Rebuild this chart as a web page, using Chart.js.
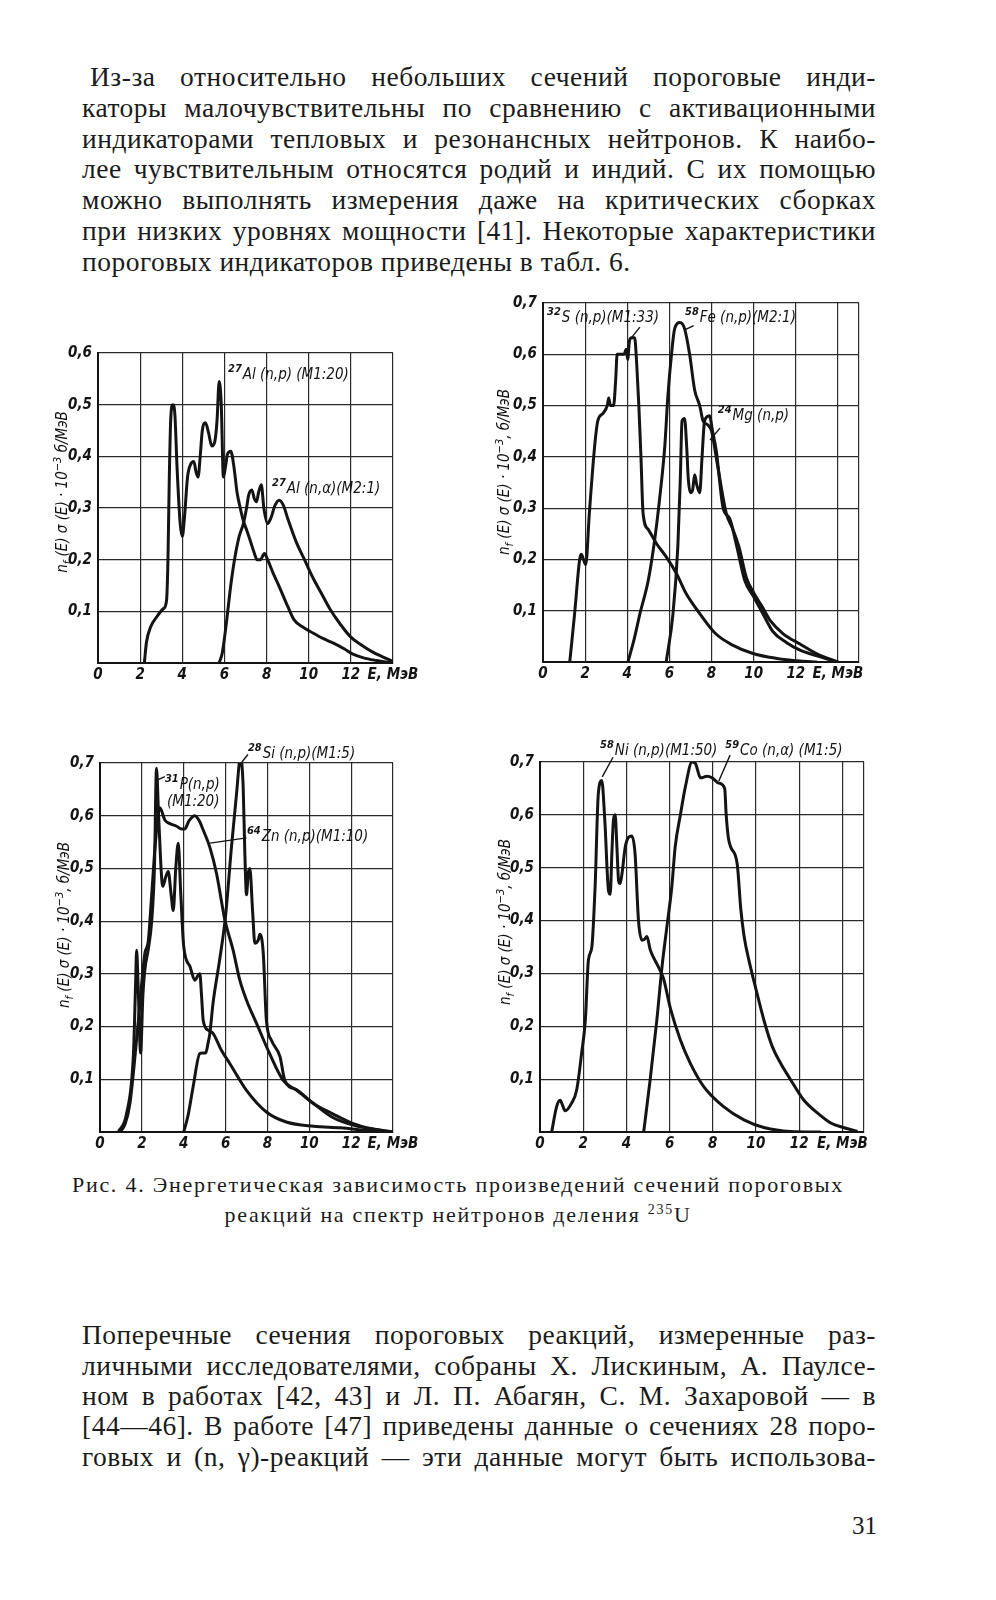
<!DOCTYPE html>
<html lang="ru">
<head>
<meta charset="utf-8">
<script src="https://cdn.jsdelivr.net/npm/chart.js@4.4.1/dist/chart.umd.min.js"></script>
<style>
  body { margin: 0; width: 996px; height: 1600px; position: relative; overflow: hidden; background: #fff; color: #1b1b1b;
         font-family: "Liberation Serif", "DejaVu Serif", serif; }
  .ln { position: absolute; left: 82px; width: 794px; font-size: 27.5px; line-height: 30px; letter-spacing: 0.5px;
        white-space: nowrap; text-align: justify; text-align-last: justify; }
  .ln.last { text-align-last: left; }
  .cap { position: absolute; left: 72px; width: 772px; font-size: 22px; line-height: 24px; letter-spacing: 1.7px; white-space: nowrap; }
  canvas { position: absolute; }
  .ytitle { position: absolute; transform: translate(-50%, -50%) rotate(-90deg); white-space: nowrap;
            font: italic 15px "Liberation Sans Narrow", "DejaVu Sans Condensed", sans-serif; color: #111; }
  .ytitle sub, .ytitle sup { font-size: 11px; }
  .pg { position: absolute; left: 852px; top: 1512px; font-size: 25px; line-height: 28px; }
</style>
</head>
<body>

<div class="ln" style="left:90px;width:786px;top:62px">Из-за  относительно небольших сечений пороговые инди-</div>
<div class="ln" style="top:93px">каторы малочувствительны по сравнению с активационными</div>
<div class="ln" style="top:124px">индикаторами тепловых и резонансных нейтронов.  К наибо-</div>
<div class="ln" style="top:154px">лее чувствительным относятся родий и индий. С их помощью</div>
<div class="ln" style="top:185px">можно выполнять измерения даже на критических  сборках</div>
<div class="ln" style="top:216px">при низких уровнях мощности [41]. Некоторые характеристики</div>
<div class="ln last" style="top:247px">пороговых индикаторов приведены в табл. 6.</div>

<canvas id="c1"></canvas>
<canvas id="c2"></canvas>
<canvas id="c3"></canvas>
<canvas id="c4"></canvas>

<div class="ytitle" style="left:62px;top:492px">n<sub>f</sub> (E) σ (E) · 10<sup>−3</sup> б/МэВ</div>
<div class="ytitle" style="left:504px;top:472px">n<sub>f</sub> (E) σ (E) · 10<sup>−3</sup>, б/МэВ</div>
<div class="ytitle" style="left:64px;top:925px">n<sub>f</sub> (E) σ (E) · 10<sup>−3</sup>, б/МэВ</div>
<div class="ytitle" style="left:505px;top:922px">n<sub>f</sub> (E) σ (E) · 10<sup>−3</sup>, б/МэВ</div>

<div class="cap" style="top:1173px;text-align:justify;text-align-last:justify">Рис. 4. Энергетическая зависимость произведений сечений пороговых</div>
<div class="cap" style="top:1198px;text-align:center">реакций на спектр нейтронов деления <sup style="font-size:14px">235</sup>U</div>

<div class="ln" style="top:1320px">Поперечные сечения пороговых реакций, измеренные раз-</div>
<div class="ln" style="top:1351px">личными исследователями, собраны Х. Лискиным, А. Паулсе-</div>
<div class="ln" style="top:1381px">ном в работах  [42, 43] и Л. П. Абагян, С. М. Захаровой — в</div>
<div class="ln" style="top:1411px">[44—46]. В работе [47] приведены данные о сечениях 28 поро-</div>
<div class="ln" style="top:1442px">говых и (n, γ)-реакций — эти данные могут быть использова-</div>
<div class="pg">31</div>

<script>
// шкалы
const xTickValues = [0, 2, 4, 6, 8, 10, 12, 14];
const xTickLabels = ['0', '2', '4', '6', '8', '10', '12', 'E, МэВ'];
const yTickLabels = ['', '0,1', '0,2', '0,3', '0,4', '0,5', '0,6', '0,7'];

// 27Al (n,p) и (n,α)
const alNpE = [2.2, 2.3, 2.5, 2.8, 3.1, 3.25, 3.32, 3.38, 3.45, 3.55, 3.65, 3.75, 3.9, 4.0, 4.1, 4.25, 4.4, 4.55, 4.65, 4.75, 4.85, 4.95, 5.1, 5.25, 5.4, 5.55, 5.65, 5.75, 5.85, 5.95, 6.05, 6.15, 6.3, 6.45, 6.6, 6.75, 6.9, 7.05, 7.2, 7.4, 7.55, 7.7, 7.9, 8.05, 8.3, 8.6, 9.0, 9.3, 9.7, 10.2, 10.7, 11.2, 11.7, 12.1, 12.6, 13.2, 14.0];
const alNpV = [0, 0.04, 0.07, 0.09, 0.105, 0.12, 0.2, 0.35, 0.47, 0.5, 0.48, 0.38, 0.27, 0.245, 0.28, 0.36, 0.385, 0.39, 0.37, 0.36, 0.4, 0.45, 0.465, 0.445, 0.42, 0.43, 0.47, 0.545, 0.5, 0.36, 0.38, 0.405, 0.41, 0.38, 0.33, 0.3, 0.275, 0.258, 0.24, 0.215, 0.2, 0.2, 0.212, 0.2, 0.175, 0.148, 0.11, 0.084, 0.07, 0.058, 0.047, 0.038, 0.027, 0.017, 0.01, 0.005, 0];
const alNaE = [5.75, 5.9, 6.1, 6.3, 6.5, 6.7, 6.9, 7.05, 7.15, 7.3, 7.42, 7.52, 7.62, 7.75, 7.87, 8.05, 8.2, 8.4, 8.6, 8.8, 9.0, 9.4, 9.8, 10.2, 10.6, 11.0, 11.5, 12.0, 12.5, 13.0, 13.5, 14.0];
const alNaV = [0, 0.02, 0.08, 0.15, 0.205, 0.245, 0.27, 0.3, 0.325, 0.335, 0.318, 0.312, 0.33, 0.345, 0.3, 0.27, 0.28, 0.305, 0.315, 0.305, 0.28, 0.235, 0.2, 0.165, 0.135, 0.105, 0.075, 0.05, 0.035, 0.022, 0.012, 0.003];

// 32S, 56Fe, 24Mg (n,p)
const sE = [1.27, 1.5, 1.74, 1.82, 1.92, 2.03, 2.2, 2.45, 2.6, 2.85, 3.05, 3.12, 3.2, 3.35, 3.45, 3.52, 3.65, 3.85, 3.95, 4.02, 4.1, 4.2, 4.35, 4.45, 4.55, 4.65, 4.75, 5.0, 5.4, 5.85, 6.33, 6.8, 7.45, 8.2, 9.0, 10.0, 11.1, 12.2, 13.0];
const sV = [0, 0.094, 0.2, 0.21, 0.2, 0.19, 0.29, 0.42, 0.47, 0.485, 0.5, 0.515, 0.5, 0.5, 0.55, 0.6, 0.6, 0.6, 0.61, 0.59, 0.625, 0.632, 0.632, 0.58, 0.5, 0.4, 0.29, 0.258, 0.23, 0.205, 0.173, 0.133, 0.094, 0.055, 0.033, 0.016, 0.007, 0.002, 0];
const feE = [4.03, 4.3, 4.6, 5.0, 5.3, 5.54, 5.78, 5.93, 6.1, 6.25, 6.5, 6.72, 6.96, 7.2, 7.44, 7.6, 7.83, 8.0, 8.3, 8.7, 9.0, 9.3, 9.65, 10.0, 10.4, 10.8, 11.4, 12.2, 13.0, 14.0];
const feV = [0, 0.04, 0.094, 0.16, 0.238, 0.32, 0.42, 0.52, 0.6, 0.65, 0.662, 0.65, 0.6, 0.53, 0.5, 0.47, 0.462, 0.45, 0.38, 0.29, 0.26, 0.225, 0.165, 0.135, 0.108, 0.08, 0.055, 0.035, 0.016, 0];
const mgE = [5.85, 6.17, 6.4, 6.52, 6.6, 6.72, 6.82, 6.9, 7.0, 7.1, 7.2, 7.3, 7.44, 7.55, 7.67, 7.9, 8.05, 8.23, 8.55, 8.86, 9.2, 9.57, 10.0, 10.44, 10.9, 11.55, 12.2, 13.0, 14.0];
const mgV = [0, 0.094, 0.225, 0.36, 0.47, 0.475, 0.42, 0.355, 0.33, 0.335, 0.365, 0.345, 0.33, 0.4, 0.47, 0.48, 0.45, 0.41, 0.3, 0.28, 0.225, 0.16, 0.127, 0.094, 0.06, 0.038, 0.023, 0.012, 0];

// 31P, 64Zn, 28Si (n,p)
const pE = [0.87, 1.27, 1.6, 1.7, 1.75, 1.82, 1.94, 2.05, 2.15, 2.3, 2.47, 2.6, 2.7, 2.8, 3.0, 3.15, 3.26, 3.4, 3.5, 3.62, 3.74, 3.85, 4.0, 4.3, 4.53, 4.7, 4.77, 4.85, 4.93, 5.17, 5.4, 5.8, 6.2, 7.0, 7.95, 8.9, 10.2, 11.5, 12.5, 13.5];
const pV = [0, 0.035, 0.15, 0.28, 0.345, 0.28, 0.15, 0.26, 0.31, 0.345, 0.4, 0.5, 0.69, 0.6, 0.466, 0.485, 0.494, 0.45, 0.42, 0.5, 0.548, 0.46, 0.352, 0.314, 0.288, 0.298, 0.3, 0.26, 0.212, 0.193, 0.187, 0.155, 0.13, 0.079, 0.038, 0.019, 0.011, 0.008, 0.004, 0];
const znE = [0.95, 1.2, 1.43, 1.83, 2.15, 2.3, 2.47, 2.65, 2.86, 3.1, 3.34, 3.66, 3.9, 4.05, 4.25, 4.53, 4.75, 4.93, 5.25, 5.57, 5.97, 6.36, 6.68, 7.0, 7.48, 8.1, 8.75, 9.4, 10.2, 11.1, 12.1, 13.4, 14.0];
const znV = [0, 0.015, 0.054, 0.21, 0.34, 0.36, 0.45, 0.55, 0.615, 0.592, 0.585, 0.58, 0.575, 0.575, 0.59, 0.6, 0.59, 0.573, 0.54, 0.49, 0.402, 0.345, 0.288, 0.25, 0.206, 0.149, 0.098, 0.079, 0.054, 0.028, 0.013, 0.003, 0];
const siE = [4.0, 4.2, 4.45, 4.77, 4.9, 5.05, 5.17, 5.25, 5.4, 5.73, 6.0, 6.28, 6.52, 6.71, 6.84, 6.92, 7.0, 7.08, 7.16, 7.29, 7.4, 7.56, 7.64, 7.8, 7.95, 8.19, 8.6, 8.83, 9.4, 10.2, 11.1, 12.1, 13.0, 14.0];
const siV = [0, 0.03, 0.086, 0.149, 0.15, 0.15, 0.17, 0.187, 0.244, 0.33, 0.41, 0.54, 0.64, 0.71, 0.656, 0.53, 0.45, 0.49, 0.5, 0.42, 0.358, 0.364, 0.375, 0.34, 0.212, 0.174, 0.143, 0.098, 0.08, 0.054, 0.035, 0.016, 0.006, 0];

// 58Ni (n,p), 59Co (n,α)
const niE = [0.54, 0.77, 0.93, 1.05, 1.16, 1.47, 1.7, 1.93, 2.1, 2.24, 2.4, 2.55, 2.7, 2.86, 3.0, 3.17, 3.25, 3.33, 3.4, 3.48, 3.56, 3.64, 3.71, 3.8, 3.95, 4.25, 4.4, 4.56, 4.72, 4.85, 4.95, 5.1, 5.41, 5.72, 6.03, 6.5, 6.96, 7.58, 8.5, 9.44, 10.4, 11.6, 13.0];
const niV = [0, 0.048, 0.06, 0.05, 0.04, 0.055, 0.08, 0.15, 0.212, 0.325, 0.35, 0.463, 0.64, 0.665, 0.59, 0.457, 0.45, 0.53, 0.59, 0.6, 0.54, 0.475, 0.47, 0.49, 0.54, 0.56, 0.527, 0.4, 0.363, 0.365, 0.37, 0.345, 0.318, 0.29, 0.235, 0.174, 0.13, 0.086, 0.048, 0.023, 0.008, 0.001, 0];
const coE = [4.8, 5.1, 5.41, 5.65, 5.88, 6.1, 6.26, 6.5, 6.73, 7.04, 7.2, 7.43, 7.74, 7.97, 8.28, 8.55, 8.62, 8.72, 8.82, 9.13, 9.3, 9.45, 9.7, 10.0, 10.37, 10.75, 11.14, 11.6, 12.2, 12.84, 13.46, 14.08, 14.7];
const coV = [0, 0.099, 0.212, 0.313, 0.39, 0.463, 0.54, 0.6, 0.653, 0.7, 0.697, 0.67, 0.673, 0.67, 0.66, 0.65, 0.6, 0.557, 0.54, 0.507, 0.42, 0.37, 0.32, 0.27, 0.211, 0.162, 0.13, 0.099, 0.061, 0.036, 0.017, 0.008, 0.001];

const FONT = "'Liberation Sans Narrow', 'DejaVu Sans Condensed', 'Liberation Sans', sans-serif";
const INK = '#141414';

// подписи кривых и выноски (в единицах осей)
const notesPlugin = {
    id: 'notes',
    afterDatasetsDraw(chart, args, opts) {
        const ctx = chart.ctx, x = chart.scales.x, y = chart.scales.y;
        ctx.save();
        ctx.strokeStyle = INK;
        ctx.fillStyle = INK;
        ctx.lineWidth = 1.4;
        (opts.leaders || []).forEach(l => {
            ctx.beginPath();
            ctx.moveTo(x.getPixelForValue(l[0]), y.getPixelForValue(l[1]));
            ctx.lineTo(x.getPixelForValue(l[2]), y.getPixelForValue(l[3]));
            ctx.stroke();
        });
        (opts.labels || []).forEach(n => {
            let px = x.getPixelForValue(n.x);
            const py = y.getPixelForValue(n.y);
            ctx.textBaseline = 'alphabetic';
            if (n.sup) {
                ctx.font = 'italic bold 11px ' + FONT;
                ctx.fillText(n.sup, px, py - 7);
                px += ctx.measureText(n.sup).width + 1;
            }
            ctx.font = 'italic 15px ' + FONT;
            ctx.fillText(n.text, px, py);
        });
        ctx.restore();
    }
};

function line(E, V) {
    return {
        data: E.map((e, i) => ({ x: e, y: V[i] })),
        borderColor: INK,
        borderWidth: 3,
        pointRadius: 0,
        fill: false,
        cubicInterpolationMode: 'monotone'
    };
}

// box: [left, top, width, height] холста, area: [left, top, right, bottom] поля графика
function makeChart(id, box, area, xMax, yMax, datasets, notes) {
    const cv = document.getElementById(id);
    cv.style.left = box[0] + 'px';
    cv.style.top = box[1] + 'px';
    cv.width = box[2];
    cv.height = box[3];
    const yW = area[0] - box[0];
    const xH = box[1] + box[3] - area[3];
    const tickFont = { family: FONT, size: 15, style: 'italic', weight: 'bold' };
    const xVals = xMax > 14 ? xTickValues.concat([xMax]) : xTickValues;
    return new Chart(cv, {
        type: 'line',
        data: { datasets: datasets },
        options: {
            responsive: false,
            animation: false,
            layout: { padding: { left: 0, top: area[1] - box[1], right: box[0] + box[2] - area[2], bottom: 0 } },
            plugins: { legend: { display: false }, tooltip: { enabled: false }, notes: notes },
            scales: {
                x: {
                    type: 'linear', min: 0, max: xMax,
                    afterBuildTicks: s => { s.ticks = xVals.map(v => ({ value: v })); },
                    ticks: { autoSkip: false, maxRotation: 0, padding: 3, color: INK, font: tickFont,
                             callback: v => { const i = xTickValues.indexOf(v); return i < 0 ? '' : xTickLabels[i]; } },
                    grid: { color: '#2a2a2a', lineWidth: 1.2, drawTicks: false },
                    border: { color: INK, width: 2 },
                    afterFit: s => { s.height = xH; }
                },
                y: {
                    min: 0, max: yMax,
                    ticks: { stepSize: 0.1, padding: 6, color: INK, font: tickFont,
                             callback: v => yTickLabels[Math.round(v * 10)] || '' },
                    grid: { color: '#2a2a2a', lineWidth: 1.2, drawTicks: false },
                    border: { color: INK, width: 2 },
                    afterFit: s => { s.width = yW; }
                }
            }
        },
        plugins: [notesPlugin]
    });
}

makeChart('c1', [20, 300, 420, 392], [98, 353, 393, 663], 14, 0.6,
    [line(alNpE, alNpV), line(alNaE, alNaV)],
    { labels: [ { x: 6.17, y: 0.55, sup: '27', text: 'Al (n,p) (M1:20)' },
                { x: 8.26, y: 0.329, sup: '27', text: 'Al (n,α)(M2:1)' } ] });

makeChart('c2', [470, 270, 420, 422], [543, 303, 859, 662], 15, 0.7,
    [line(sE, sV), line(feE, feV), line(mgE, mgV)],
    { labels: [ { x: 0.19, y: 0.663, sup: '32', text: 'S (n,p)(M1:33)' },
                { x: 6.74, y: 0.663, sup: '58', text: 'Fe (n,p)(M2:1)' },
                { x: 8.3, y: 0.472, sup: '24', text: 'Mg (n,p)' } ],
      leaders: [ [4.6, 0.653, 4.23, 0.634], [7.15, 0.656, 6.75, 0.648], [8.4, 0.456, 7.93, 0.433] ] });

makeChart('c3', [20, 720, 420, 440], [100, 763, 393, 1132], 14, 0.7,
    [line(pE, pV), line(znE, znV), line(siE, siV)],
    { labels: [ { x: 7.07, y: 0.71, sup: '28', text: 'Si (n,p)(M1:5)' },
                { x: 3.1, y: 0.651, sup: '31', text: 'P(n,p)' },
                { x: 3.2, y: 0.619, text: '(M1:20)' },
                { x: 7.02, y: 0.552, sup: '64', text: 'Zn (n,p)(M1:10)' } ],
      leaders: [ [7.07, 0.716, 6.78, 0.702], [3.1, 0.674, 2.75, 0.668], [7.0, 0.558, 5.26, 0.548] ] });

makeChart('c4', [470, 720, 420, 440], [540, 762, 864, 1132], 15, 0.7,
    [line(niE, niV), line(coE, coV)],
    { labels: [ { x: 2.78, y: 0.713, sup: '58', text: 'Ni (n,p)(M1:50)' },
                { x: 8.58, y: 0.713, sup: '59', text: 'Co (n,α) (M1:5)' } ],
      leaders: [ [3.38, 0.709, 2.88, 0.672], [8.8, 0.713, 8.28, 0.664] ] });
</script>
</body>
</html>
